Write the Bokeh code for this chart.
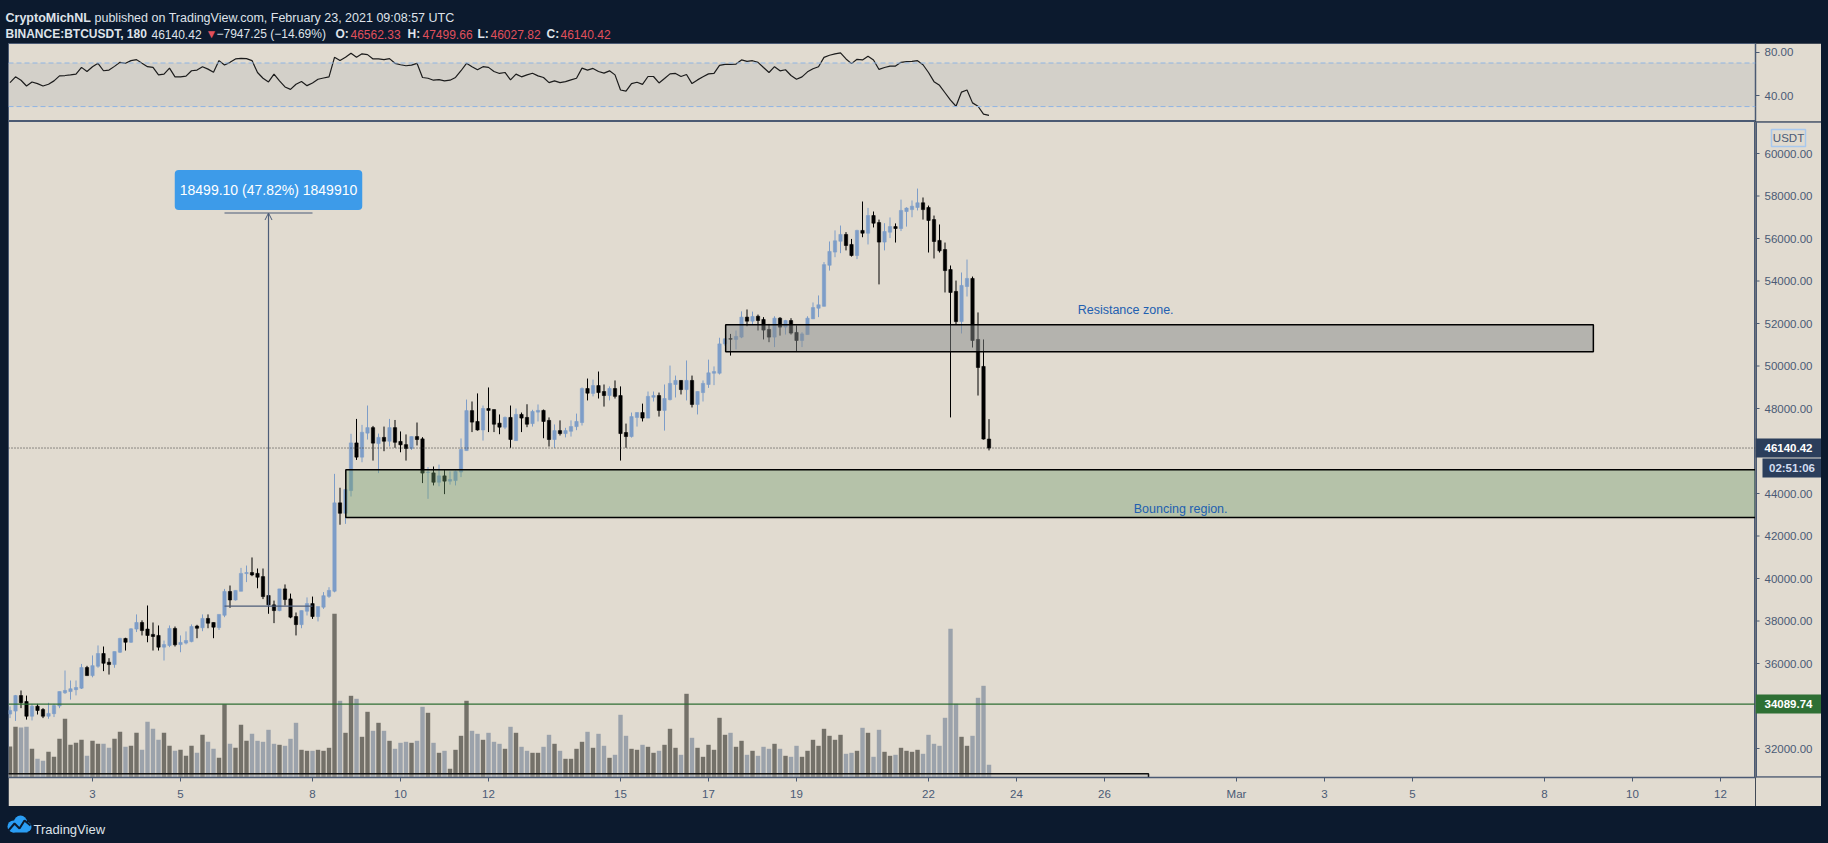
import numpy as np
import pandas as pd
from bokeh.plotting import figure
from bokeh.models import (Range1d, FixedTicker, NumeralTickFormatter, Span, BoxAnnotation,
                          Label, Arrow, OpenHead, ColumnDataSource, GlobalInlineStyleSheet,
                          CustomJSTickFormatter, Spacer)
from bokeh.layouts import column, row
from bokeh.core.properties import value, field
from bokeh.embed import file_html
from bokeh.resources import INLINE

# ---------------- data (BINANCE:BTCUSDT, 3h candles from 2021-02-01 03:00) ----------------
opens = [33620, 33760, 34490, 34210, 33520, 33990, 33830, 33520, 33640, 34000,
         34620, 34680, 34770, 34840, 35810, 35430, 35870, 36470, 36060, 35950,
         36530, 37180, 37000, 37620, 37930, 37620, 37370, 37320, 36770, 36850,
         37650, 36890, 36960, 37030, 37760, 37680, 38120, 37930, 37690, 38270,
         39390, 38990, 39400, 40230, 40280, 40240, 40090, 39200, 38760, 38490,
         39510, 39040, 38210, 37830, 38460, 38820, 38210, 38650, 39160, 39400,
         43560, 43070, 44140, 46380, 45710, 46840, 47100, 46350, 46640, 46460,
         47100, 46450, 46300, 46120, 46680, 46570, 44990, 44970, 44530, 44830,
         44580, 44610, 45010, 46020, 47900, 47390, 46990, 48000, 47950, 47310,
         47120, 47580, 46490, 47720, 47580, 47290, 47830, 47910, 47440, 46540,
         46960, 46820, 46930, 47150, 47340, 48940, 48710, 49080, 48800, 48610,
         48940, 48610, 46870, 46680, 47580, 47810, 47550, 48530, 48610, 47910,
         48420, 49130, 49320, 48890, 49320, 48190, 48750, 49130, 49660, 49660,
         51040, 51290, 51250, 51360, 52300, 52110, 52340, 52190, 51720, 51360,
         52250, 51830, 52140, 51580, 51200, 51480, 52220, 52720, 52810, 54740,
         55360, 55870, 56190, 55720, 55200, 56380, 56250, 57080, 56750, 55830,
         56300, 56560, 56470, 57270, 57360, 57460, 57680, 57460, 56890, 55910,
         55480, 54540, 53510, 52090, 53740, 54120, 51250, 49980, 46562.33]
highs = [33980, 34520, 34730, 34490, 34100, 34100, 33900, 34150, 34100, 34680,
         35670, 35200, 35200, 35980, 35890, 36380, 36850, 36800, 36250, 36560,
         37210, 37210, 37660, 38310, 38030, 38730, 37930, 37790, 37080, 37790,
         37740, 37320, 37510, 37840, 37820, 38310, 38310, 37930, 38310, 39510,
         39670, 39440, 40500, 40610, 40990, 40470, 40470, 39200, 38960, 39510,
         39720, 39290, 38400, 38490, 39110, 39150, 38680, 39360, 39590, 44925,
         44270, 44190, 46810, 47510, 47230, 48140, 47180, 46820, 47150, 47510,
         47460, 46920, 46780, 46680, 47340, 46650, 45240, 45270, 45360, 45100,
         45040, 45080, 46590, 48420, 48330, 48710, 48140, 48990, 47950, 47720,
         47620, 48140, 48000, 47810, 48200, 47940, 48190, 47950, 47580, 47250,
         47440, 47090, 47440, 47760, 48990, 49410, 49360, 49740, 49130, 49040,
         49320, 49040, 47290, 47810, 47810, 48230, 48800, 48800, 48750, 49130,
         50020, 49550, 49320, 50260, 49550, 48800, 49320, 50300, 49980, 51330,
         51300, 51510, 51670, 52570, 52660, 52560, 52420, 52300, 51980, 52340,
         52300, 52170, 52250, 51910, 51590, 52340, 52990, 53320, 54890, 55860,
         56380, 56610, 56300, 55980, 56410, 57740, 57440, 57270, 56890, 56720,
         56990, 56710, 57830, 57470, 57790, 58350, 57930, 57550, 57080, 56660,
         55810, 54730, 54020, 54400, 55010, 54210, 52520, 51250, 47499.66]
lows = [33430, 33300, 33900, 33360, 33320, 33600, 33430, 33400, 33480, 33900,
        34570, 34300, 34500, 34800, 35430, 35350, 35800, 35640, 35480, 35800,
        36500, 36610, 36970, 37480, 37320, 37000, 36610, 36610, 36140, 36770,
        36800, 36530, 36900, 37000, 37190, 37520, 37660, 37190, 37580, 38180,
        38620, 38960, 39400, 39830, 40110, 39540, 39030, 38340, 37900, 38460,
        38730, 38130, 37320, 37660, 38260, 38100, 37980, 38570, 39090, 39350,
        42530, 42570, 43860, 45580, 45470, 46540, 45550, 44960, 45990, 46210,
        46150, 45940, 45550, 46050, 46260, 44490, 43750, 44380, 44340, 43970,
        44420, 44380, 44770, 46020, 46890, 46960, 46490, 46890, 46890, 46790,
        47030, 46150, 46490, 46890, 47120, 47150, 47390, 46600, 46210, 46150,
        46730, 46640, 46680, 46980, 47200, 48380, 48570, 48470, 48090, 48380,
        48470, 45550, 46150, 46630, 47150, 47390, 47550, 48330, 47620, 46960,
        48380, 48520, 48660, 48380, 48050, 47720, 48330, 48970, 49100, 49600,
        50950, 50490, 50780, 51310, 51870, 51950, 51670, 51250, 51120, 50890,
        51430, 51480, 51480, 50670, 50890, 51480, 52220, 52300, 52800, 54490,
        55120, 55310, 55440, 55150, 55030, 56060, 55720, 56520, 53840, 55440,
        56020, 55810, 56350, 56560, 57000, 57320, 56890, 55340, 55060, 55340,
        53460, 47580, 51950, 51530, 53270, 50870, 48610, 46540, 46027.82]
closes = [33790, 34490, 34150, 33520, 33990, 33790, 33520, 33650, 34020, 34680,
          34730, 34810, 34870, 35810, 35430, 35900, 36470, 36010, 35950, 36560,
          37180, 37000, 37630, 37930, 37550, 37320, 37270, 36770, 36890, 37650,
          36880, 36990, 37080, 37740, 37660, 38120, 37900, 37710, 38310, 39390,
          38990, 39440, 40240, 40280, 40170, 40060, 39150, 38760, 38490, 39510,
          39010, 38180, 37830, 38490, 38820, 38210, 38680, 39190, 39440, 43560,
          43070, 44190, 46380, 45710, 46880, 47100, 46370, 46640, 46460, 47100,
          46410, 46290, 46120, 46680, 46540, 44960, 45000, 44530, 44830, 44580,
          44660, 45040, 46070, 47900, 47360, 46990, 48000, 47910, 47260, 47120,
          47580, 46540, 47720, 47550, 47260, 47860, 47910, 47390, 46540, 46960,
          46820, 46960, 47150, 47390, 48940, 48720, 49080, 48750, 48610, 48940,
          48570, 46820, 46680, 47620, 47810, 47550, 48570, 48610, 47910, 48470,
          49180, 49320, 48890, 49320, 48190, 48800, 49180, 49680, 49740, 51040,
          51280, 51260, 51390, 52300, 52110, 52330, 52140, 51690, 51360, 52250,
          51830, 52140, 51550, 51200, 51510, 52250, 52750, 52880, 54770, 55390,
          55890, 56190, 55670, 55200, 56380, 56250, 57080, 56720, 55830, 56330,
          56560, 56470, 57320, 57430, 57520, 57680, 57360, 56850, 55860, 55420,
          54490, 53460, 52090, 53790, 54120, 51200, 49930, 46562.33, 46140.42]
volumes = [3100, 5070, 5000, 5070, 2870, 1870, 1670, 2570, 2070, 3870,
           5870, 3270, 3470, 3770, 2170, 3670, 3370, 3370, 2970, 3870,
           4570, 3070, 3170, 4470, 2770, 5570, 4870, 3770, 4470, 3170,
           2670, 2770, 2170, 3170, 2470, 4270, 3570, 2870, 1970, 7330,
           3370, 2970, 5270, 3670, 4370, 3670, 3570, 4770, 3370, 3270,
           3170, 3870, 5470, 2770, 2670, 2670, 2770, 2670, 2970, 16370,
           7670, 4470, 8170, 7870, 4070, 6570, 4670, 5470, 4670, 3670,
           2870, 3470, 3570, 3470, 3670, 7070, 6470, 3470, 2470, 2670,
           870, 2770, 4170, 7670, 4670, 4370, 3770, 4470, 3570, 3370,
           2870, 5070, 4470, 3070, 2670, 2470, 2470, 3070, 4270, 3370,
           2670, 1870, 1870, 2870, 3570, 4570, 2970, 4370, 3170, 1970,
           2270, 6270, 4170, 2870, 2770, 3270, 3070, 2470, 2670, 3270,
           4870, 2970, 2270, 8370, 3970, 2970, 2070, 3270, 2770, 5970,
           4270, 4470, 3070, 3670, 2270, 2670, 2170, 3070, 2870, 3370,
           2870, 2170, 2070, 3170, 2070, 2670, 3770, 3170, 4870, 4170,
           3770, 4270, 2370, 2470, 2670, 4970, 4470, 2070, 4770, 2570,
           2170, 2270, 2970, 2670, 2570, 2770, 2370, 4270, 3370, 3170,
           5970, 14870, 7370, 4070, 3170, 4170, 7970, 9170, 1270]
rsi = [52.0, 57.3, 54.2, 48.9, 52.6, 51.1, 48.9, 50.5, 53.6, 58.2,
       58.5, 59.1, 59.8, 66.0, 62.2, 66.6, 69.7, 62.9, 63.5, 66.9,
       70.6, 69.7, 72.2, 73.1, 69.7, 66.6, 66.0, 59.1, 59.8, 65.3,
       57.3, 57.3, 57.9, 62.9, 63.5, 66.6, 64.4, 61.6, 72.2, 68.1,
       70.6, 73.7, 74.3, 74.0, 72.2, 61.3, 56.0, 52.6, 59.8, 53.6,
       48.0, 45.8, 50.5, 53.0, 49.2, 51.7, 55.1, 56.2, 57.3, 75.2,
       72.2, 75.2, 79.0, 75.2, 78.4, 77.7, 73.7, 73.7, 73.1, 74.0,
       69.7, 68.4, 67.5, 68.1, 69.7, 56.7, 56.0, 54.2, 54.8, 53.6,
       54.2, 56.7, 62.9, 69.7, 66.6, 63.8, 66.6, 66.0, 62.2, 60.4,
       61.3, 54.5, 59.8, 57.3, 59.1, 60.6, 58.2, 56.7, 52.0, 53.6,
       52.0, 52.9, 54.5, 56.0, 65.3, 63.5, 65.0, 62.2, 60.7, 62.8,
       59.1, 45.2, 44.2, 51.1, 52.3, 50.4, 57.6, 57.6, 51.7, 55.7,
       60.0, 60.4, 57.6, 59.4, 51.1, 54.5, 57.3, 60.0, 60.4, 67.8,
       68.7, 68.7, 69.0, 72.8, 71.5, 72.1, 70.6, 65.9, 61.3, 66.6,
       62.8, 63.8, 58.5, 55.1, 57.3, 61.9, 64.7, 66.6, 75.2, 77.1,
       78.3, 79.3, 73.7, 69.4, 73.4, 72.8, 76.2, 72.8, 64.1, 65.9,
       67.2, 67.2, 70.6, 71.2, 71.5, 72.1, 68.4, 61.3, 52.9, 49.5,
       42.7, 35.9, 30.3, 43.3, 45.2, 33.4, 30.3, 23.1, 21.9]

tick_days = [3, 5, 8, 10, 12, 15, 17, 19, 22, 24, 26, 29, 31, 33, 36, 38, 40]
tick_labels = ["3", "5", "8", "10", "12", "15", "17", "19", "22", "24", "26",
               "Mar", "3", "5", "8", "10", "12"]
price_ticks = list(range(32000, 60001, 2000))
rsi_ticks = [40, 80]

# drawings (day-of-February units / USDT)
measure_from, measure_to = 38700.0, 57199.10
measure_day, measure_left, measure_right = 7.0, 6.0, 8.0
measure_text = "18499.10 (47.82%) 1849910"
resist_left, resist_right, resist_bottom, resist_top = 17.39, 37.11, 50668, 51938
bounce_left, bounce_right, bounce_bottom, bounce_top = 8.757, 45.0, 42871, 45115
range_left, range_right, range_bottom, range_top = 0.0, 27.0, 29000, 30810
support_level = 34089.74
last_price = closes[-1]
countdown = "02:51:06"

# ---------------- styling constants ----------------
BG = "#e1dbd0"
DARK = "#0c1a2e"
AX = "#4b5a73"
TXT = "#4a5a75"
UP = "#7d9dc8"
DOWN = "#000000"
FONT = "Liberation Sans"
PAGE_W = 1828
PANEL_W = 1813      # light panel 8..1821
FRAME_W = 1747      # plot area 8..1755
AXIS_W = PANEL_W - FRAME_W

times = pd.date_range("2021-02-01 03:00", periods=len(closes), freq="3h")
xday = 1.0 + np.asarray((times - pd.Timestamp("2021-02-01")).total_seconds()) / 86400.0
o = np.array(opens, float); c = np.array(closes, float)
h = np.array(highs, float); l = np.array(lows, float)
up = c >= o
ccol = np.where(up, UP, DOWN)
vcol = np.where(up, "#747169", "#9ba2ab")
src = ColumnDataSource(dict(x=xday, o=o, c=c, h=h, l=l, top=np.maximum(o, c),
                            bot=np.minimum(o, c), col=ccol, vol=volumes, vcol=vcol, rsi=rsi))

X0, X1 = 1.0909, 40.795
xr = Range1d(X0, X1)
P0, P1 = 30635.3, 61505.9           # price range of the 656 px plot area
PPX = (P1 - P0) / 656.0             # USDT per pixel
yr = Range1d(P0, P1)


def style_axis(ax):
    ax.axis_line_color = AX
    ax.axis_line_width = 1.5
    ax.major_tick_line_color = AX
    ax.major_tick_out = 4
    ax.major_tick_in = 0
    ax.minor_tick_out = 0
    ax.minor_tick_in = 0
    ax.major_label_text_color = TXT
    ax.major_label_text_font = FONT
    ax.major_label_text_font_size = "11.5px"
    ax.major_label_standoff = 5


def blank(w, hgt, xrange, yrange, fill, **kw):
    f = figure(width=w, height=hgt, x_range=xrange, y_range=yrange,
               toolbar_location=None, output_backend="svg", min_border=0,
               x_axis_location=None, y_axis_location=None,
               background_fill_color=fill, border_fill_color=fill, outline_line_color=None, **kw)
    f.grid.visible = False
    return f


# ---------------- header ----------------
hdr = blank(PAGE_W, 43, Range1d(0, PAGE_W), Range1d(43, 0), DARK)
WH = "#dfe3ea"
RED = "#e0505c"
l1 = ColumnDataSource(dict(x=[5, 94], y=[17.5, 17.5],
                           t=["CryptoMichNL", "published on TradingView.com, February 23, 2021 09:08:57 UTC"],
                           col=[WH, WH], st=["bold", "normal"]))
hdr.text(x="x", y="y", text="t", source=l1, text_color="col", text_font_style=field("st"),
         text_font=value(FONT), text_font_size="12.5px", text_baseline="alphabetic")
l2 = ColumnDataSource(dict(
    x=[5, 151, 205, 216, 335, 350, 407, 422, 477, 490, 546, 560],
    y=[33.5] * 12,
    t=["BINANCE:BTCUSDT, 180", f"{closes[-1]:.2f}", "\u25bc", "\u22127947.25 (\u221214.69%)",
       "O:", f"{opens[-1]:.2f}", "H:", f"{highs[-1]:.2f}", "L:", f"{lows[-1]:.2f}",
       "C:", f"{closes[-1]:.2f}"],
    col=[WH, WH, RED, WH, WH, RED, WH, RED, WH, RED, WH, RED],
    st=["bold", "normal", "normal", "normal", "bold", "normal", "bold", "normal",
        "bold", "normal", "bold", "normal"]))
hdr.text(x="x", y="y", text="t", source=l2, text_color="col", text_font_style=field("st"),
         text_font=value(FONT), text_font_size="12px", text_baseline="alphabetic")

# ---------------- RSI pane ----------------
rp = figure(width=PANEL_W, height=78, x_range=xr, y_range=Range1d(16.3, 87.9),
            toolbar_location=None, output_backend="svg",
            min_border_left=0, min_border_right=AXIS_W, min_border_top=0, min_border_bottom=0,
            x_axis_location=None, y_axis_location="right",
            background_fill_color=BG, border_fill_color=BG,
            outline_line_color=AX, outline_line_width=1)
rp.grid.visible = False
rp.yaxis.ticker = FixedTicker(ticks=rsi_ticks)
rp.yaxis.formatter = NumeralTickFormatter(format="0.00")
style_axis(rp.yaxis[0])
rp.add_layout(BoxAnnotation(bottom=30, top=70, fill_color="#d3d0c9", fill_alpha=1.0,
                            line_color=None, level="underlay"))
for lev in (70, 30):
    rp.add_layout(Span(location=lev, dimension="width", line_color="#8fb4e3",
                       line_dash="5 3", line_width=1))
rp.line(x="x", y="rsi", source=src, line_color="#1c1c1c", line_width=1.2)

# ---------------- price pane ----------------
mp = figure(width=FRAME_W, height=685, x_range=xr, y_range=yr,
            toolbar_location=None, output_backend="svg",
            min_border_left=0, min_border_right=0, min_border_top=0, min_border_bottom=29,
            x_axis_location="below", y_axis_location=None,
            background_fill_color=BG, border_fill_color=BG,
            outline_line_color=AX, outline_line_width=1)
mp.grid.visible = False
mp.xaxis.ticker = FixedTicker(ticks=tick_days)
mp.xaxis.formatter = CustomJSTickFormatter(
    args=dict(days=tick_days, labels=tick_labels),
    code="const i = days.indexOf(tick); return i >= 0 ? labels[i] : '';")
style_axis(mp.xaxis[0])
mp.xaxis.major_label_standoff = 6

mp.extra_y_ranges = {"vol": Range1d(0, 65600)}
mp.vbar(x="x", width=0.1, top="vol", bottom=0, source=src, y_range_name="vol",
        fill_color="vcol", line_color=None)
mp.segment(x0="x", y0="h", x1="x", y1="l", source=src, line_color="col", line_width=1)
mp.vbar(x="x", width=0.075, top="top", bottom="bot", source=src,
        fill_color="col", line_color="col", line_width=0.6)

# zones
mp.quad(left=[resist_left], right=[resist_right], bottom=[resist_bottom], top=[resist_top],
        fill_color="#878b8b", fill_alpha=0.5, line_color="#000000", line_width=1.5)
mp.quad(left=[bounce_left], right=[bounce_right], bottom=[bounce_bottom], top=[bounce_top],
        fill_color="#739d6f", fill_alpha=0.4, line_color="#000000", line_width=1.5)
mp.quad(left=[range_left], right=[range_right], bottom=[range_bottom], top=[range_top],
        fill_color="#b8b8b4", fill_alpha=0.45, line_color="#111111", line_width=1.5)

mp.text(x=[26.48], y=[52612], text=["Resistance zone."], text_color="#2260b0",
        text_font=value(FONT), text_font_size="12.5px", text_align="center",
        text_baseline="middle")
mp.text(x=[27.73], y=[43250], text=["Bouncing region."], text_color="#2260b0",
        text_font=value(FONT), text_font_size="12.5px", text_align="center",
        text_baseline="middle")

# measure tool
mp.segment(x0=[measure_left, measure_left], y0=[measure_from, measure_to],
           x1=[measure_right, measure_right], y1=[measure_from, measure_to],
           line_color="#4d5d78", line_width=1.2)
mp.add_layout(Arrow(end=OpenHead(size=7, line_color="#4d5d78", line_width=1),
                    x_start=measure_day, y_start=measure_from, x_end=measure_day, y_end=measure_to,
                    line_color="#4d5d78", line_width=1.2))
mp.add_layout(Label(x=measure_day, y=58282, text=measure_text, text_align="center",
                    text_baseline="middle", text_color="#ffffff", text_font=FONT,
                    text_font_size="14px", background_fill_color="#3d9be9",
                    background_fill_alpha=1.0, border_radius=4, padding=(5, 12)))

# level lines
mp.add_layout(Span(location=last_price, dimension="width", line_color="#333333",
                   line_dash="1 2", line_width=1))
mp.add_layout(Span(location=support_level, dimension="width", line_color="#2f6f35",
                   line_width=1.2))

# ---------------- price scale (right strip, shares the price range) ----------------
ax = blank(AXIS_W, 685, Range1d(0, AXIS_W), yr, BG, min_border_bottom=29)
ax.segment(x0=[0.75], y0=[P0], x1=[0.75], y1=[P1], line_color=AX, line_width=1.5)
ax.segment(x0=[0, 0], y0=[P0 + 0.6 * PPX, P1 - 0.6 * PPX], x1=[AXIS_W, AXIS_W],
           y1=[P0 + 0.6 * PPX, P1 - 0.6 * PPX], line_color=AX, line_width=1.5)
ax.segment(x0=[0] * len(price_ticks), y0=price_ticks, x1=[4] * len(price_ticks), y1=price_ticks,
           line_color=AX, line_width=1)
ax.text(x=[9] * len(price_ticks), y=price_ticks, text=[f"{t:.2f}" for t in price_ticks],
        text_color=TXT, text_font=value(FONT), text_font_size="11.5px",
        text_baseline="middle", text_align="left")
# badges
ax.rect(x=[AXIS_W / 2, AXIS_W / 2], y=[last_price, support_level], width=AXIS_W, height=19,
        height_units="screen", fill_color=["#2b3e5b", "#2e6f34"], line_color=None)
ax.rect(x=[(7 + AXIS_W) / 2], y=[45200], width=AXIS_W - 7, height=19,
        height_units="screen", fill_color="#2b3e5b", line_color=None)
ax.text(x=[AXIS_W / 2, AXIS_W / 2], y=[last_price, support_level],
        text=[f"{last_price:.2f}", f"{support_level:.2f}"], text_color="#ffffff",
        text_font=value(FONT), text_font_style="bold", text_font_size="11.5px",
        text_baseline="middle", text_align="center")
ax.text(x=[(7 + AXIS_W) / 2], y=[45200], text=[countdown], text_color="#d2ddf0",
        text_font=value(FONT), text_font_style="bold", text_font_size="11.5px",
        text_baseline="middle", text_align="center")
ax.rect(x=[AXIS_W / 2], y=[60729], width=34, height=17, height_units="screen",
        fill_color=None, line_color="#a8c8ee", line_width=1.5)
ax.text(x=[AXIS_W / 2], y=[60729], text=["USDT"], text_color=TXT,
        text_font=value(FONT), text_font_size="11.5px",
        text_baseline="middle", text_align="center")

# ---------------- footer ----------------
ftr = blank(PAGE_W, 37, Range1d(0, PAGE_W), Range1d(37, 0), DARK)
ftr.circle(x=[13, 20, 26], y=[20, 15.5, 20.5], radius=[6, 6.5, 5], fill_color="#2a9df4",
           line_color=None)
ftr.quad(left=[12], right=[27], bottom=[26], top=[20], fill_color="#2a9df4", line_color=None)
ftr.line(x=[8, 14, 19, 24, 30], y=[24, 17, 22, 14, 19], line_color=DARK, line_width=2)
ftr.text(x=[33], y=[22.7], text=["TradingView"], text_color="#dfe3ea",
         text_font=value(FONT), text_font_size="13px", text_baseline="alphabetic")

middle = row(Spacer(width=8, height=763), column(rp, row(mp, ax, spacing=0), spacing=0), spacing=0)
layout = column(hdr, middle, ftr, spacing=0,
                stylesheets=[GlobalInlineStyleSheet(css="html, body { background-color: #0c1a2e; }")])

open("out.html", "w").write(file_html(layout, INLINE))
